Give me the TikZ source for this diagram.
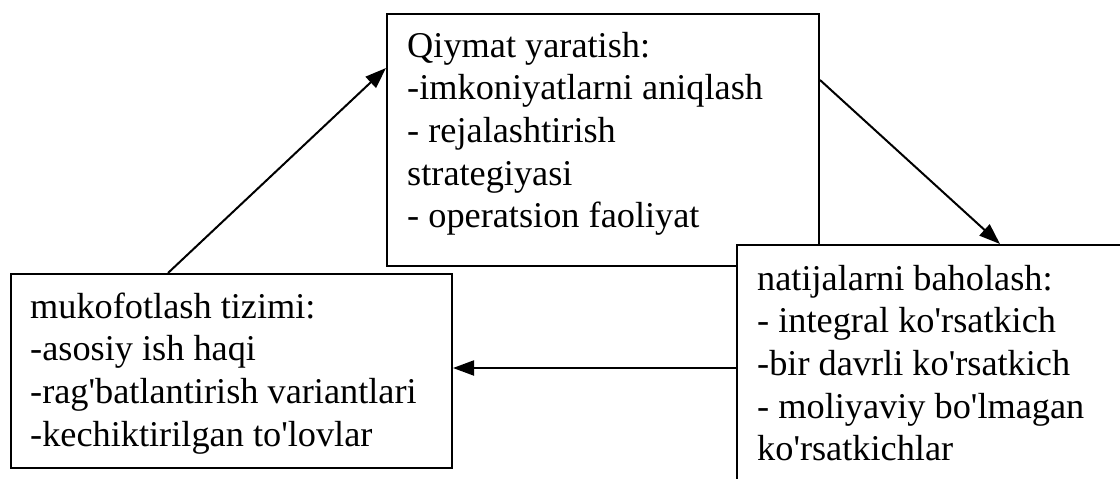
\documentclass[tikz,border=0pt]{standalone}
\usepackage{fontspec}
\setmainfont{Liberation Serif}[Ligatures=TeXOff]
\usetikzlibrary{arrows.meta,calc}
\tikzset{
  boxframe/.style={draw=black, line width=2pt, fill=white, anchor=north west, inner sep=0pt},
  boxtext/.style={anchor=base west, inner sep=0pt, font=\fontsize{36.3}{42.7}\selectfont},
  conn/.style={line width=2pt, -{Triangle[length=21pt,width=15pt]}}
}
\newcommand{\boxlines}[1]{\begin{tabular}[t]{@{}l@{}}#1\end{tabular}}
\begin{document}
\begin{tikzpicture}[x=1pt,y=1pt]
\clip (0,0) rectangle (1120,-479);
\fill[white] (0,0) rectangle (1120,-479);
\node[boxframe, minimum width=432pt, minimum height=252.5pt] (top) at (386,-12.5) {};
\node[boxframe, minimum width=420pt, minimum height=260pt] (right) at (736,-244) {};
\node[boxframe, minimum width=441pt, minimum height=194pt] (left) at (10,-273) {};
\node[boxtext] (toptext) at (407,-57) {\boxlines{Qiymat yaratish:\\-imkoniyatlarni aniqlash\\- rejalashtirish\\strategiyasi\\- operatsion faoliyat}};
\node[boxtext] (lefttext) at (30,-318) {\boxlines{mukofotlash tizimi:\\-asosiy ish haqi\\-rag'batlantirish variantlari\\-kechiktirilgan to'lovlar}};
\node[boxtext] (righttext) at (757,-290) {\boxlines{natijalarni baholash:\\- integral ko'rsatkich\\-bir davrli ko'rsatkich\\- moliyaviy bo'lmagan\\ko'rsatkichlar}};
\draw[conn] ($(left.north west)+(158,0)$) -- ($(top.north west)+(0,-55.5)$);
\draw[conn] ($(top.north east)+(0,-67.5)$) -- ($(right.north west)+(264,0)$);
\draw[conn] ($(right.north west)+(0,-124)$) -- ($(left.north east)+(0,-95)$);
\end{tikzpicture}
\end{document}
